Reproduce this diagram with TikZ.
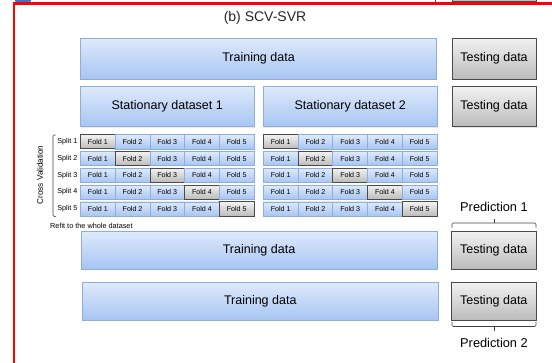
\documentclass[tikz,border=0pt]{standalone}
\usepackage{fontspec}
\setmainfont{Liberation Sans}
\usetikzlibrary{shadows}

\definecolor{bluetop}{HTML}{DFEAFB}
\definecolor{bluebot}{HTML}{A7C5F2}
\definecolor{blueline}{HTML}{8EAEDA}
\definecolor{greytop}{HTML}{F2F2F2}
\definecolor{greybot}{HTML}{BBBBBB}
\definecolor{greyline}{HTML}{4A4A4A}
\definecolor{framered}{HTML}{FF0000}
\definecolor{tabblue}{HTML}{4472C4}

\begin{document}
\begin{tikzpicture}[x=1pt,y=-1pt,
  blockbase/.style={rectangle, inner sep=0pt, outer sep=0pt,
    font=\fontsize{12.5}{14}\selectfont},
  softshadow/.style={drop shadow={opacity=0.18, shadow xshift=0.9pt, shadow yshift=-0.9pt}},
  trainbox/.style={blockbase, top color=bluetop, bottom color=bluebot,
    draw=blueline, line width=0.8pt, softshadow},
  testbox/.style={blockbase, top color=greytop, bottom color=greybot,
    draw=greyline, line width=0.8pt, softshadow},
  foldcell/.style={rectangle, inner sep=0pt, outer sep=0pt,
    minimum height=14.2pt, top color=bluetop, bottom color=bluebot,
    draw=blueline, line width=0.6pt, font=\fontsize{7.1}{8}\selectfont},
  foldsel/.style={foldcell, top color=greytop, bottom color=greybot,
    draw=greyline, line width=0.75pt},
  smalllabel/.style={inner sep=0pt, font=\fontsize{7.2}{8}\selectfont},
  bracket/.style={draw=black!75, line width=0.6pt, rounded corners=1.2pt},
  predlabel/.style={inner sep=0pt, font=\fontsize{12.8}{14}\selectfont}
]
\useasboundingbox (0,0) rectangle (552,362);
\clip (0,0) rectangle (552,362);

% pieces of the panel above, cut by the page edge
\fill[tabblue, rounded corners=1.5pt] (15,-5) rectangle (31,2.5);
\draw[greyline, line width=0.7pt] (435,-5) -- (435,2);
\draw[greyline, line width=0.8pt, top color=greytop, bottom color=greybot]
  (452,-20) rectangle (536,1.5);

% red panel frame
\draw[framered, line width=2.6pt] (14,370) -- (14,3.3) -- (560,3.3);

% title
\node[inner sep=0pt, font=\fontsize{14}{16}\selectfont, text=black!85] (title)
  at (265,18) {(b) SCV-SVR};

% first row
\node[trainbox, minimum width=356pt, minimum height=41pt] (train1) at (258.5,58.5) {Training data};
\node[testbox, minimum width=84pt, minimum height=41pt] (test1) at (494,58.5) {Testing data};

% stationary datasets
\node[trainbox, minimum width=173.5pt, minimum height=40.5pt] (stat1) at (167.25,106.5) {Stationary dataset 1};
\node[trainbox, minimum width=173.7pt, minimum height=40.5pt] (stat2) at (350.15,106.5) {Stationary dataset 2};
\node[testbox, minimum width=84pt, minimum height=40.5pt] (test2) at (494,106.5) {Testing data};

% cross validation folds
\foreach \r in {1,...,5} {
  \pgfmathsetmacro\ry{141.7+16.8*(\r-1)}
  \node[smalllabel, anchor=east] (split\r) at (77.5,\ry) {Split \r};
  \foreach \c in {1,...,5} {
    \ifnum\r=\c \def\cellstyle{foldsel}\else\def\cellstyle{foldcell}\fi
    \pgfmathsetmacro\lx{80.5+34.7*(\c-0.5)}
    \pgfmathsetmacro\rx{263.3+34.74*(\c-0.5)}
    \node[\cellstyle, minimum width=34.7pt] (L\r\c) at (\lx,\ry) {Fold \c};
    \node[\cellstyle, minimum width=34.74pt] (R\r\c) at (\rx,\ry) {Fold \c};
  }
}
\draw[bracket] (55.5,135) -- (53,135) -- (53,216.5) -- (55.5,216.5);
\node[smalllabel, rotate=90, font=\fontsize{8.2}{9}\selectfont] (cv) at (40,175) {Cross Validation};

\node[smalllabel, anchor=west, font=\fontsize{7.3}{8}\selectfont] (refit) at (50,225.5) {Refit to the whole dataset};

% prediction 1
\node[predlabel] (pred1) at (494,207) {Prediction 1};
\draw[bracket] (452,227.5) -- (452,223) -- (536,223) -- (536,227.5);
\draw[bracket, rounded corners=0pt] (494,223) -- (494,218.5);

% refit row
\node[trainbox, minimum width=356pt, minimum height=38pt] (train3) at (259,250) {Training data};
\node[testbox, minimum width=84.5pt, minimum height=38pt] (test3) at (493.75,250) {Testing data};

% final row
\node[trainbox, minimum width=355.5pt, minimum height=38pt] (train4) at (260.25,301) {Training data};
\node[testbox, minimum width=84.5pt, minimum height=38pt] (test4) at (493.75,301) {Testing data};

% prediction 2
\draw[bracket] (452,322) -- (452,326.5) -- (536,326.5) -- (536,322);
\draw[bracket, rounded corners=0pt] (494,326.5) -- (494,331);
\node[predlabel] (pred2) at (494,343) {Prediction 2};
\end{tikzpicture}
\end{document}
